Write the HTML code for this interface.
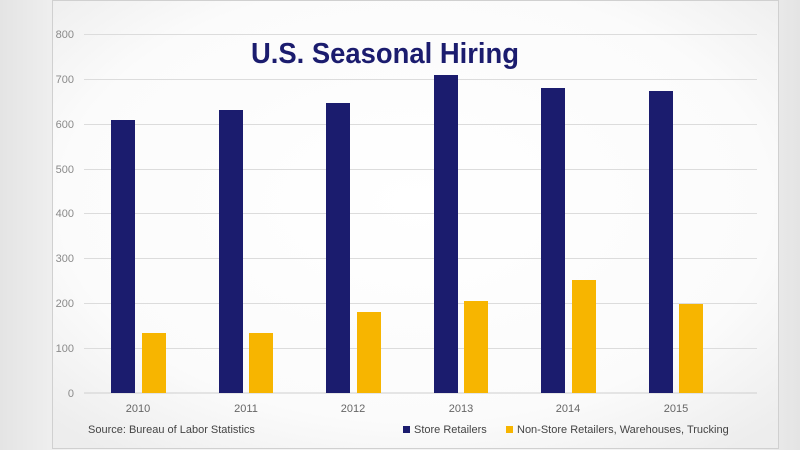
<!DOCTYPE html>
<html><head><style>
body{margin:0;width:800px;height:450px;overflow:hidden;background:linear-gradient(90deg,#e4e4e4,#f4f4f4 10%,#f4f4f4 90%,#e4e4e4);font-family:"Liberation Sans",sans-serif}
</style></head><body>
<svg width="800" height="450" style="position:absolute;left:0;top:0">
<defs><radialGradient id="g" cx="0.5" cy="0.45" r="0.7"><stop offset="0" stop-color="#ffffff"/><stop offset="0.7" stop-color="#fbfbfb"/><stop offset="1" stop-color="#ededed"/></radialGradient></defs>
<rect x="52.5" y="0.5" width="726" height="448" fill="url(#g)" stroke="#d0d0d0"/>
<g stroke="#dcdcdc" stroke-width="1">
<line x1="84" x2="757" y1="34.5" y2="34.5"/><line x1="84" x2="757" y1="79.5" y2="79.5"/><line x1="84" x2="757" y1="124.5" y2="124.5"/><line x1="84" x2="757" y1="169.5" y2="169.5"/><line x1="84" x2="757" y1="213.5" y2="213.5"/><line x1="84" x2="757" y1="258.5" y2="258.5"/><line x1="84" x2="757" y1="303.5" y2="303.5"/><line x1="84" x2="757" y1="348.5" y2="348.5"/><line x1="84" x2="757" y1="393" y2="393" stroke="#cfcfcf"/>
</g>
<g font-size="11" fill="#8a8a8a" text-anchor="end">
<text x="74" y="38">800</text><text x="74" y="83">700</text><text x="74" y="128">600</text><text x="74" y="173">500</text><text x="74" y="217">400</text><text x="74" y="262">300</text><text x="74" y="307">200</text><text x="74" y="352">100</text><text x="74" y="397">0</text>
</g>
<g fill="#1b1c6e">
<rect x="111" y="120" width="24" height="273"/><rect x="219" y="110" width="24" height="283"/><rect x="326" y="103" width="24" height="290"/><rect x="434" y="75" width="24" height="318"/><rect x="541" y="88" width="24" height="305"/><rect x="649" y="91" width="24" height="302"/>
</g>
<g fill="#f7b500">
<rect x="142" y="333" width="24" height="60"/><rect x="249" y="333" width="24" height="60"/><rect x="357" y="312" width="24" height="81"/><rect x="464" y="301" width="24" height="92"/><rect x="572" y="280" width="24" height="113"/><rect x="679" y="304" width="24" height="89"/>
</g>
<g font-size="11" fill="#666" text-anchor="middle">
<text x="138" y="412">2010</text><text x="246" y="412">2011</text><text x="353" y="412">2012</text><text x="461" y="412">2013</text><text x="568" y="412">2014</text><text x="676" y="412">2015</text>
</g>
<text x="251" y="63" font-size="29" font-weight="bold" fill="#1b1c6e" textLength="268" lengthAdjust="spacingAndGlyphs">U.S. Seasonal Hiring</text>
<text x="88" y="433" font-size="11" fill="#444">Source: Bureau of Labor Statistics</text>
<rect x="403" y="426" width="7" height="7" fill="#1b1c6e"/><text x="414" y="433" font-size="11" fill="#444">Store Retailers</text>
<rect x="506" y="426" width="7" height="7" fill="#f7b500"/><text x="517" y="433" font-size="11" fill="#444">Non-Store Retailers, Warehouses, Trucking</text>
</svg>
</body></html>
